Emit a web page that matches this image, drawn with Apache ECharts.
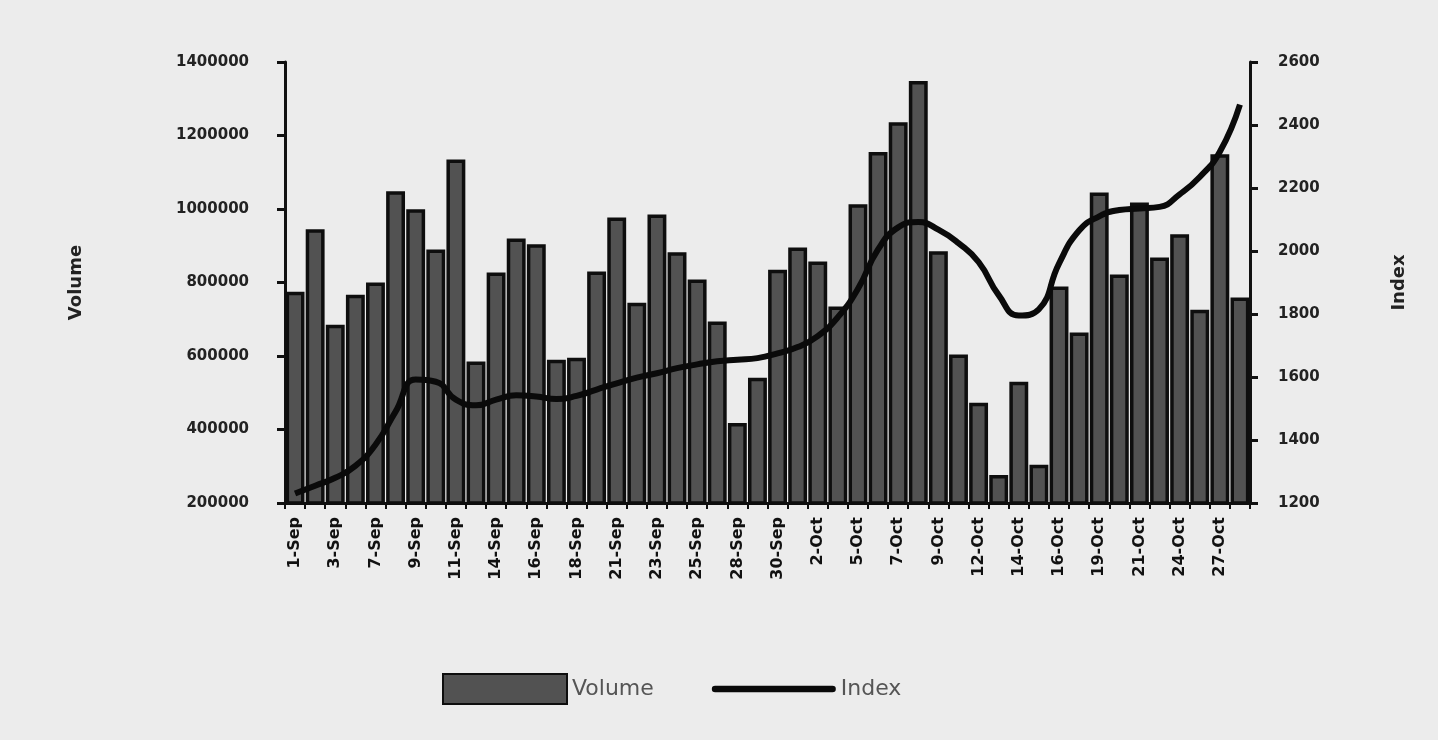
<!DOCTYPE html>
<html>
<head>
<meta charset="utf-8">
<script src="https://cdn.jsdelivr.net/npm/echarts@6/dist/echarts.min.js"></script>
<style>
  html, body { margin: 0; padding: 0; background: #ececec; }
  #chart { width: 1438px; height: 740px; }
  #frame { position: absolute; left: 20px; top: 0; width: 3px; height: 740px; background: #111; }
</style>
</head>
<body>
<div id="frame"></div>
<div id="chart"></div>
<script>
const categories = ['1-Sep','2-Sep','3-Sep','4-Sep','7-Sep','8-Sep','9-Sep','10-Sep','11-Sep','12-Sep',
  '14-Sep','15-Sep','16-Sep','17-Sep','18-Sep','19-Sep','21-Sep','22-Sep','23-Sep','24-Sep',
  '25-Sep','26-Sep','28-Sep','29-Sep','30-Sep','1-Oct','2-Oct','3-Oct','5-Oct','6-Oct',
  '7-Oct','8-Oct','9-Oct','10-Oct','12-Oct','13-Oct','14-Oct','15-Oct','16-Oct','17-Oct',
  '19-Oct','20-Oct','21-Oct','22-Oct','24-Oct','26-Oct','27-Oct','28-Oct'];

const volume = [775000, 945000, 685000, 767000, 800000, 1048000, 999000, 890000, 1135000, 585000,
  827000, 920000, 904000, 590000, 595000, 830000, 977000, 745000, 985000, 882000,
  808000, 694000, 418000, 541000, 835000, 895000, 857000, 735000, 1013000, 1155000,
  1236000, 1348000, 885000, 604000, 473000, 276000, 530000, 304000, 789000, 664000,
  1045000, 822000, 1018000, 868000, 931000, 726000, 1149000, 759000];

const indexValues = [1230, 1255, 1280, 1318, 1385, 1490, 1592, 1585, 1528, 1510,
  1528, 1542, 1538, 1530, 1540, 1560, 1580, 1598, 1612, 1628,
  1640, 1650, 1655, 1660, 1675, 1695, 1730, 1790, 1880, 2005,
  2075, 2092, 2068, 2025, 1965, 1860, 1795, 1815, 1960, 2065,
  2110, 2130, 2135, 2140, 2180, 2235, 2315, 2465];

const volumeAxis = { min: 200000, max: 1400000, interval: 200000 };
const indexAxis = { min: 1200, max: 2600, interval: 200 };

const chart = echarts.init(document.getElementById('chart'));
const axisFont = { fontFamily: 'DejaVu Sans', fontWeight: 'bold', fontSize: 15, color: '#222' };
const plain = v => String(v);

chart.setOption({
  backgroundColor: '#ececec',
  animation: false,
  grid: { left: 285, right: 188, top: 62, bottom: 237, containLabel: false },
  legend: {
    left: 437, top: 668,
    itemWidth: 124, itemHeight: 30, itemGap: 58,
    textStyle: { fontFamily: 'DejaVu Sans', fontSize: 22, color: '#555' },
    data: [
      { name: 'Volume', icon: 'rect' },
      { name: 'Index', icon: 'path://M3,0 L127,0 A3.5,3.5 0 0 1 127,7 L3,7 A3.5,3.5 0 0 1 3,0 Z' }
    ]
  },
  xAxis: {
    type: 'category',
    data: categories,
    axisLine: { lineStyle: { color: '#111', width: 3 } },
    axisTick: { show: true, alignWithLabel: false, interval: 0, length: 6, lineStyle: { color: '#111', width: 2 } },
    axisLabel: {
      interval: 1, rotate: 90, margin: 14,
      fontFamily: 'DejaVu Sans', fontWeight: 'bold', fontSize: 16, color: '#111'
    }
  },
  yAxis: [
    {
      type: 'value', position: 'left',
      min: volumeAxis.min, max: volumeAxis.max, interval: volumeAxis.interval,
      name: 'Volume', nameLocation: 'middle', nameGap: 200, nameRotate: 90,
      nameTextStyle: { fontFamily: 'DejaVu Sans', fontWeight: 'bold', fontSize: 18, color: '#222' },
      axisLine: { show: true, lineStyle: { color: '#111', width: 3 } },
      axisTick: { show: true, length: 8, lineStyle: { color: '#111', width: 3 } },
      axisLabel: Object.assign({ margin: 36, formatter: plain }, axisFont),
      splitLine: { show: false }
    },
    {
      type: 'value', position: 'right',
      min: indexAxis.min, max: indexAxis.max, interval: indexAxis.interval,
      name: 'Index', nameLocation: 'middle', nameGap: 140, nameRotate: 90,
      nameTextStyle: { fontFamily: 'DejaVu Sans', fontWeight: 'bold', fontSize: 18, color: '#222' },
      axisLine: { show: true, lineStyle: { color: '#111', width: 3 } },
      axisTick: { show: true, length: 8, lineStyle: { color: '#111', width: 3 } },
      axisLabel: Object.assign({ margin: 28, formatter: plain }, axisFont),
      splitLine: { show: false }
    }
  ],
  series: [
    {
      name: 'Volume', type: 'bar', yAxisIndex: 0,
      data: volume,
      barCategoryGap: '6%',
      itemStyle: { color: '#525252', borderColor: '#0e0e0e', borderWidth: 3.5 }
    },
    {
      name: 'Index', type: 'line', yAxisIndex: 1,
      data: indexValues,
      smooth: 0.5, showSymbol: false, symbol: 'none',
      lineStyle: { color: '#0a0a0a', width: 6 },
      itemStyle: { color: '#0a0a0a' },
      z: 5
    }
  ]
});
</script>
</body>
</html>
